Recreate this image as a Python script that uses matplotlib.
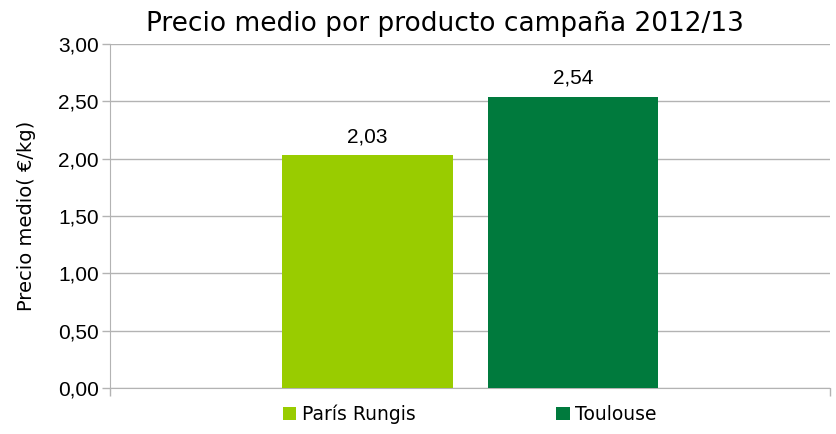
import matplotlib.pyplot as plt
from matplotlib.ticker import FuncFormatter

plt.rcParams['font.family'] = ['Liberation Sans', 'DejaVu Sans']

series = ['París Rungis', 'Toulouse']
precios = [2.03, 2.54]
colores = ['#99cc00', '#007a3d']
y_ticks = [0.0, 0.5, 1.0, 1.5, 2.0, 2.5, 3.0]

titulo = 'Precio medio por producto campaña 2012/13'
eje_y = 'Precio medio( €/kg)'

fig = plt.figure(figsize=(8.37, 4.34), dpi=100)
ax = fig.add_axes([0.1314, 0.106, 0.8602, 0.7926])

ancho = 0.237
centros = [0.358, 0.643]
for c, v, col, lab in zip(centros, precios, colores, series):
    ax.bar(c, v, width=ancho, color=col, label=lab, zorder=3)
    ax.text(c, v + 0.08, '{:.2f}'.format(v).replace('.', ','), ha='center',
            va='bottom', fontsize=15, family='Liberation Sans')

ax.set_xlim(0, 1)
ax.set_ylim(0, 3)
ax.set_yticks(y_ticks)
ax.yaxis.set_major_formatter(FuncFormatter(lambda v, p: '{:.2f}'.format(v).replace('.', ',')))
ax.set_xticks([0, 1])
ax.set_xticklabels(['', ''])
ax.tick_params(axis='both', color='#b3b3b3', length=6, width=1, labelsize=15)
ax.tick_params(axis='y', pad=2)
for t in ax.get_yticklabels():
    t.set_family('Liberation Sans')
ax.grid(axis='y', color='#b3b3b3', linewidth=1, zorder=0)

for s in ['top', 'right']:
    ax.spines[s].set_visible(False)
for s in ['left', 'bottom']:
    ax.spines[s].set_color('#b3b3b3')

ax.set_ylabel(eje_y, fontsize=14, family='DejaVu Sans', labelpad=16)
fig.text(445 / 837, 1 - 24 / 434, titulo, ha='center', va='center',
         fontsize=19, family='DejaVu Sans')

ax.legend(loc='upper center', bbox_to_anchor=(0.5, 0.0), ncol=2, frameon=False,
          prop={'family': 'DejaVu Sans', 'size': 13.5},
          handlelength=0.7, handleheight=0.7, handletextpad=0.3,
          columnspacing=7.5)

fig.savefig('out.png', dpi=100)
